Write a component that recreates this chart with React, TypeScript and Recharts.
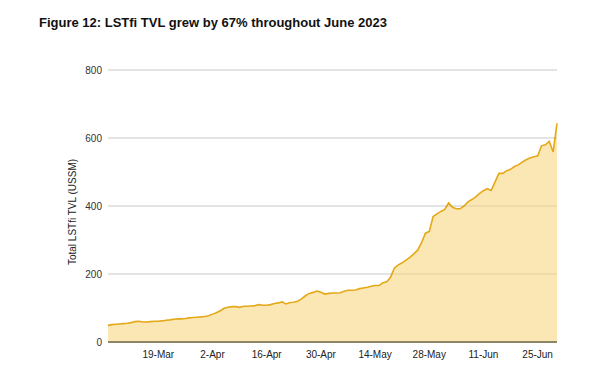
import React from "react";
import { AreaChart, Area, XAxis, YAxis, CartesianGrid, ReferenceLine } from "recharts";

const title = "Figure 12: LSTfi TVL grew by 67% throughout June 2023";
const yAxisLabel = "Total LSTfi TVL (USSM)";

// Daily categories: 6-Mar-2023 .. 30-Jun-2023
const months = ["Mar", "Apr", "May", "Jun"];
const monthStartDay = [6, 1, 1, 1];
const monthEndDay = [31, 30, 31, 30];

const tvl = [
  49, 51, 52, 53, 54, 55, 57, 60, 61, 59,
  59, 60, 61, 61, 62, 64, 65, 67, 68, 68,
  69, 71, 72, 73, 74, 75, 77, 82, 86, 92,
  99, 102, 104, 104, 102, 105, 105, 106, 107, 110,
  108, 108, 110, 113, 115, 118, 112, 116, 117, 120,
  127, 136, 143, 146, 150, 146, 141, 143, 144, 144,
  145, 149, 152, 152, 153, 157, 159, 161, 164, 166,
  166, 174, 177, 190, 218, 227, 233, 241, 249, 259,
  270, 292, 320, 325, 369, 377, 384, 390, 409, 396,
  392, 392, 400, 412, 419, 427, 437, 445, 451, 446,
  471, 496, 496, 504, 508, 516, 521, 529, 536, 541,
  545, 547, 577, 580, 590, 559, 643,
];

const xTicks = ["19-Mar", "2-Apr", "16-Apr", "30-Apr", "14-May", "28-May", "11-Jun", "25-Jun"];
const yTicks = [0, 200, 400, 600, 800];
const overlayGrid = [200, 400, 600, 800];

const dates: string[] = [];
months.forEach((m, i) => {
  for (let d = monthStartDay[i]; d <= monthEndDay[i]; d++) dates.push(`${d}-${m}`);
});

const data = dates.map((date, i) => ({ date, tvl: tvl[i] }));

export default function App() {
  return (
    <div style={{ position: "absolute", left: 0, top: 0, width: 600, height: 378, background: "#fff" }}>
      <div
        style={{
          position: "absolute",
          left: 39,
          top: 15,
          fontFamily: "Liberation Sans, Arial, sans-serif",
          fontWeight: 700,
          fontSize: 13,
          color: "#111",
          whiteSpace: "nowrap",
        }}
      >
        {title}
      </div>
      <AreaChart
        width={600}
        height={378}
        data={data}
        margin={{ top: 70, right: 43, bottom: 0, left: 0 }}
        style={{ fontFamily: "Liberation Sans, Arial, sans-serif" }}
      >
        <CartesianGrid vertical={false} stroke="#e3e3e3" strokeWidth={1} />
        <XAxis
          dataKey="date"
          ticks={xTicks}
          interval={0}
          tickLine={false}
          tickSize={0}
          tickMargin={9}
          axisLine={{ stroke: "#8c8566", strokeWidth: 2 }}
          tick={{ fontSize: 10, fill: "#222" }}
          height={36}
        />
        <YAxis
          domain={[0, 800]}
          ticks={yTicks}
          width={108}
          axisLine={false}
          tickLine={false}
          tickSize={0}
          tickMargin={6}
          tick={{ fontSize: 10, fill: "#333" }}
          label={{
            value: yAxisLabel,
            angle: -90,
            position: "center",
            dx: 18,
            dy: 6,
            style: { fontSize: 10, fill: "#222", textAnchor: "middle" },
          }}
        />
        <Area
          type="linear"
          dataKey="tvl"
          stroke="#e5a818"
          strokeWidth={1.6}
          fill="#fae7b4"
          fillOpacity={1}
          isAnimationActive={false}
          dot={false}
          activeDot={false}
        />
        {overlayGrid.map((v) => (
          <ReferenceLine key={v} y={v} stroke="#000" strokeOpacity={0.1} strokeWidth={1} />
        ))}
      </AreaChart>
    </div>
  );
}
